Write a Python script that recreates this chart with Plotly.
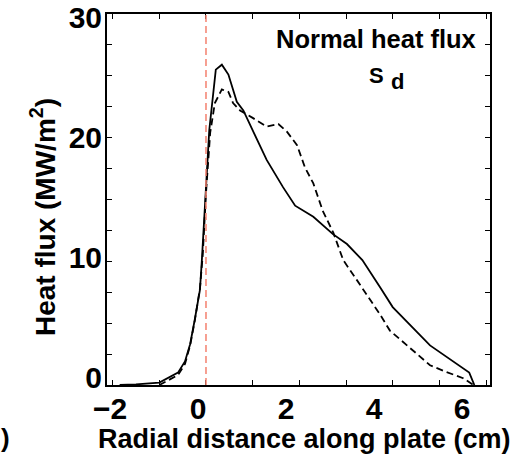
import plotly.graph_objects as go

# Solid curve (distance in cm, heat flux in MW/m^2)
solid_x = [-1.85, -1.5, -1.0, -0.6, -0.45, -0.34, -0.24, -0.13, -0.09, -0.03, 0.02, 0.07,
           0.21, 0.34, 0.48, 0.66, 0.8, 1.0, 1.3, 1.65, 1.91, 2.3, 2.72, 3.02, 3.35,
           3.73, 4.0, 4.8, 5.64, 5.75]
solid_y = [0.0, 0.05, 0.2, 1.0, 1.9, 3.3, 5.3, 7.7, 10.0, 14.0, 17.6, 20.6,
           25.5, 25.9, 25.1, 22.9, 22.2, 20.6, 18.2, 16.0, 14.5, 13.6, 12.2, 11.4, 10.1,
           7.9, 6.3, 3.2, 1.0, 0.0]

# Dashed curve
dash_x = [-1.0, -0.6, -0.45, -0.34, -0.24, -0.13, -0.07, 0.0, 0.09, 0.19, 0.34, 0.48,
          0.58, 0.73, 1.0, 1.3, 1.55, 1.73, 1.95, 2.12, 2.3, 2.5, 2.73, 2.94, 3.23,
          3.45, 3.73, 3.94, 4.44, 4.8, 5.15, 5.51, 5.73]
dash_y = [0.0, 0.8, 1.7, 3.2, 5.2, 7.8, 10.5, 15.5, 20.4, 22.8, 23.9, 23.7,
          22.8, 22.2, 21.6, 20.9, 21.1, 20.5, 19.4, 17.6, 16.3, 14.1, 12.3, 10.1, 8.5,
          7.3, 5.7, 4.4, 2.8, 1.6, 1.05, 0.55, 0.0]

strike_x = 0.0
x_tick_labels = [-2, 0, 2, 4, 6]
y_tick_vals = [0, 10, 20, 30]

x_title = "Radial distance along plate (cm)"
y_title = "Heat flux (MW/m<sup>2</sup>)"

font_family = "Liberation Sans"

W, H = 523, 454
L, R, T, B = 107, 33, 14, 69
pw, ph = W - L - R, H - T - B

fig = go.Figure()
fig.add_trace(go.Scatter(x=solid_x, y=solid_y, mode="lines",
                         line=dict(color="black", width=1.8), showlegend=False))
fig.add_trace(go.Scatter(x=dash_x, y=dash_y, mode="lines",
                         line=dict(color="black", width=1.8, dash="7px,4px"), showlegend=False))
# invisible helper traces for the (slightly offset) label axes of the original figure
fig.add_trace(go.Scatter(x=[x_tick_labels[0], x_tick_labels[-1]], y=[None, None], xaxis="x2",
                         mode="lines", showlegend=False, hoverinfo="skip"))
fig.add_trace(go.Scatter(x=[None, None], y=[y_tick_vals[0], y_tick_vals[-1]], yaxis="y2",
                         mode="lines", showlegend=False, hoverinfo="skip"))

fig.add_shape(type="line", x0=strike_x, x1=strike_x, y0=0, y1=1, xref="x", yref="y domain",
              line=dict(color="#F4806E", width=1.5, dash="7px,4px"))

fig.update_layout(
    template="none",
    width=W, height=H,
    margin=dict(l=L, r=R, t=T, b=B, pad=0),
    paper_bgcolor="white", plot_bgcolor="white",
    font=dict(family=font_family, color="black", size=26, weight="bold"),
    xaxis=dict(range=[-2.121, 6.085], tickmode="linear", tick0=0, dtick=1,
               ticks="inside", ticklen=5, tickwidth=1.3, tickcolor="black",
               showticklabels=False, showline=True, linewidth=1.5, linecolor="black",
               mirror="ticks", showgrid=False, zeroline=False, automargin=False),
    xaxis2=dict(range=[-2.068, 6.636], overlaying="x", anchor="y", side="bottom",
                tickvals=x_tick_labels, ticks="", showline=False, showgrid=False,
                zeroline=False, automargin=False, ticklabeloverflow="allow",
                ticklabelstandoff=3, tickfont=dict(size=30, weight="bold")),
    yaxis=dict(range=[0, 30], tickvals=y_tick_vals, ticks="inside", ticklen=5,
               tickwidth=1.3, tickcolor="black", showticklabels=False,
               minor=dict(dtick=2.5, tick0=0, ticks="inside", ticklen=5, tickwidth=1.3,
                          tickcolor="black", showgrid=False),
               showline=True, linewidth=1.5, linecolor="black", mirror="ticks",
               showgrid=False, zeroline=False, automargin=False),
    yaxis2=dict(range=[-0.667, 30.25], overlaying="y", anchor="x", side="left",
                tickvals=y_tick_vals, ticks="", showline=False, showgrid=False,
                zeroline=False, automargin=False, ticklabeloverflow="allow",
                ticklabelstandoff=4, tickfont=dict(size=30, weight="bold")),
)


def px_to_paper(px, py):
    return (px - L) / pw, (H - B - py) / ph


for text, px, py, size, angle in [("Normal heat flux", 376, 39, 25.5, 0),
                                  ("S", 376, 75, 22, 0),
                                  ("d", 397, 81, 22, 0),
                                  (")", 5, 438, 26, 0),
                                  (x_title, 304, 439, 27, 0),
                                  (y_title, 43, 217, 28, -90)]:
    xp, yp = px_to_paper(px, py)
    fig.add_annotation(text=text, x=xp, y=yp, xref="paper", yref="paper",
                       xanchor="center", yanchor="middle", showarrow=False,
                       textangle=angle, font=dict(size=size, weight="bold"))

fig.write_html("out.html", config={"displayModeBar": False},
               post_script="document.body.style.margin='0';")
